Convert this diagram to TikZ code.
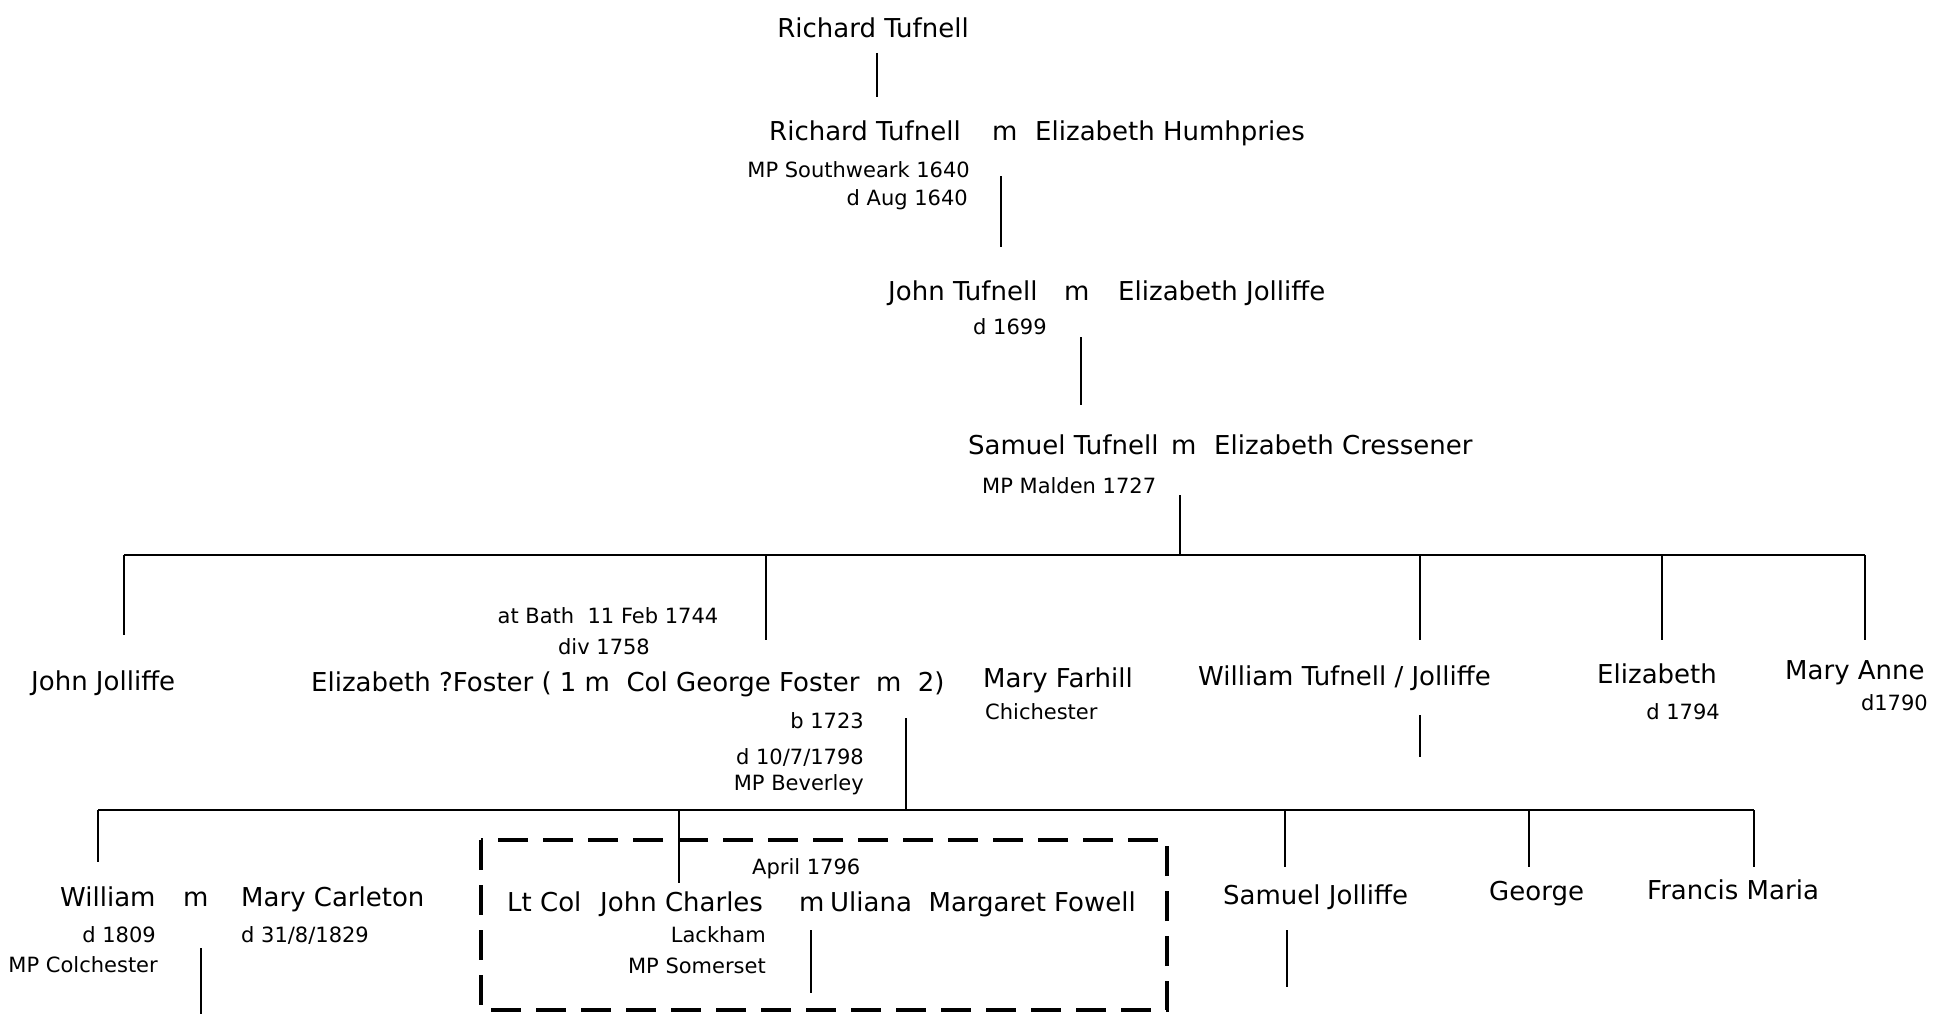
\documentclass[tikz,border=0pt]{standalone}
\usepackage{fontspec}
\setmainfont{DejaVu Sans}

\begin{document}
\begin{tikzpicture}
[x=1pt, y=-1pt,
person/.style={inner sep=0pt, font=\fontsize{26}{31}\selectfont},
note/.style={inner sep=0pt, font=\fontsize{21}{25}\selectfont},
link/.style={draw, line width=1.4pt},
famlybox/.style={draw, line width=4.5pt, dash pattern=on 30pt off 15pt}]
\useasboundingbox (0,0) rectangle (1937,1014);

% generation 1
\node [person, anchor=base] (rich1) at (873,38) {Richard Tufnell};
% generation 2
\node [person, anchor=base west] (rich2) at (769,140) {Richard Tufnell};
\node [person, anchor=base west] (m2) at (992,140) {m};
\node [person, anchor=base west] (humph) at (1035,140) {Elizabeth Humhpries};
\node [note, anchor=base east] (rich2a) at (970,177) {MP Southweark 1640};
\node [note, anchor=base east] (rich2b) at (968,205) {d Aug 1640};
% generation 3
\node [person, anchor=base west] (john3) at (888,300) {John Tufnell};
\node [person, anchor=base west] (m3) at (1064,300) {m};
\node [person, anchor=base west] (joll3) at (1118,300) {Elizabeth Jolliffe};
\node [note, anchor=base west] (john3a) at (973,334) {d 1699};
% generation 4
\node [person, anchor=base west] (sam4) at (968,454) {Samuel Tufnell};
\node [person, anchor=base west] (m4) at (1171,454) {m};
\node [person, anchor=base west] (cress4) at (1214,454) {Elizabeth Cressener};
\node [note, anchor=base west] (sam4a) at (982,493) {MP Malden 1727};
% generation 5 - the children of Samuel
\node [person, anchor=base west] (jjol5) at (31,690) {John Jolliffe};
\node [person, anchor=base west] (fost5) at (311,691)
  {Elizabeth ?Foster ( 1 m\ \ Col George Foster\ \ m\ \ 2)};
\node [note, anchor=base] (fost5a) at (608,623) {at Bath\ \ 11 Feb 1744};
\node [note, anchor=base] (fost5b) at (604,654) {div 1758};
\node [note, anchor=base east] (fost5c) at (864,728) {b 1723};
\node [note, anchor=base east] (fost5d) at (864,764) {d 10/7/1798};
\node [note, anchor=base east] (fost5e) at (864,790) {MP Beverley};
\node [person, anchor=base west] (farh5) at (983,687) {Mary Farhill};
\node [note, anchor=base west] (farh5a) at (985,719) {Chichester};
\node [person, anchor=base west] (will5) at (1198,685) {William Tufnell / Jolliffe};
\node [person, anchor=base west] (eliz5) at (1597,683) {Elizabeth};
\node [note, anchor=base east] (eliz5a) at (1720,719) {d 1794};
\node [person, anchor=base west] (mann5) at (1785,679) {Mary Anne};
\node [note, anchor=base east] (mann5a) at (1928,710) {d1790};
% generation 6 - the children of Col George Foster
\node [person, anchor=base west] (will6) at (60,906) {William};
\node [person, anchor=base west] (m6) at (183,906) {m};
\node [person, anchor=base west] (carl6) at (241,906) {Mary Carleton};
\node [note, anchor=base east] (will6a) at (156,942) {d 1809};
\node [note, anchor=base west] (carl6a) at (241,942) {d 31/8/1829};
\node [note, anchor=base east] (will6b) at (158,972) {MP Colchester};
\node [note, anchor=base west] (jch6a) at (752,874) {April 1796};
\node [person, anchor=base west] (ltc6) at (507,911) {Lt Col};
\node [person, anchor=base west] (jch6) at (600,911) {John Charles};
\node [person, anchor=base west] (m6b) at (799,911) {m};
\node [person, anchor=base west] (fow6) at (830,911) {Uliana\ \ Margaret Fowell};
\node [note, anchor=base east] (jch6b) at (766,942) {Lackham};
\node [note, anchor=base east] (jch6c) at (766,973) {MP Somerset};
\node [person, anchor=base west] (sjol6) at (1223,904) {Samuel Jolliffe};
\node [person, anchor=base west] (geo6) at (1489,900) {George};
\node [person, anchor=base west] (fmar6) at (1647,899) {Francis Maria};

% end points of the lines
\coordinate (l1a) at (877,53);   \coordinate (l1b) at (877,97);
\coordinate (l2a) at (1001,176); \coordinate (l2b) at (1001,247);
\coordinate (l3a) at (1081,337); \coordinate (l3b) at (1081,405);
\coordinate (l4a) at (1180,495); \coordinate (bar1m) at (1180,555);
\coordinate (bar1w) at (124,555); \coordinate (bar1e) at (1865,555);
\coordinate (d1) at (766,555);  \coordinate (d2) at (1420,555);
\coordinate (d3) at (1662,555);
\coordinate (l5a) at (906,718); \coordinate (bar2m) at (906,810);
\coordinate (bar2w) at (98,810); \coordinate (bar2e) at (1754,810);
\coordinate (e1) at (679,810);  \coordinate (e2) at (1285,810);
\coordinate (e3) at (1529,810);
\coordinate (w5a) at (1420,715); \coordinate (w5b) at (1420,757);
\coordinate (w6a) at (201,948);  \coordinate (w6b) at (201,1014);
\coordinate (j6a) at (811,930);  \coordinate (j6b) at (811,993);
\coordinate (s6a) at (1287,930); \coordinate (s6b) at (1287,987);

\begin{scope}[every path/.style=link]
\path (l1a) -- (l1b);
\path (l2a) -- (l2b);
\path (l3a) -- (l3b);
\path (l4a) -- (bar1m);
\path (bar1w) -- (bar1e);
\path (bar1w) -- ++(0,80);
\path (d1) -- ++(0,85);
\path (d2) -- ++(0,85);
\path (d3) -- ++(0,85);
\path (bar1e) -- ++(0,85);
\path (l5a) -- (bar2m);
\path (w5a) -- (w5b);
\path (bar2w) -- (bar2e);
\path (bar2w) -- ++(0,52);
\path (e1) -- ++(0,73);
\path (e2) -- ++(0,57);
\path (e3) -- ++(0,57);
\path (bar2e) -- ++(0,57);
\path (w6a) -- (w6b);
\path (j6a) -- (j6b);
\path (s6a) -- (s6b);
\end{scope}

% the dashed frame round John Charles
\draw [famlybox] (481,840) rectangle (1167,1010);
\end{tikzpicture}
\end{document}
